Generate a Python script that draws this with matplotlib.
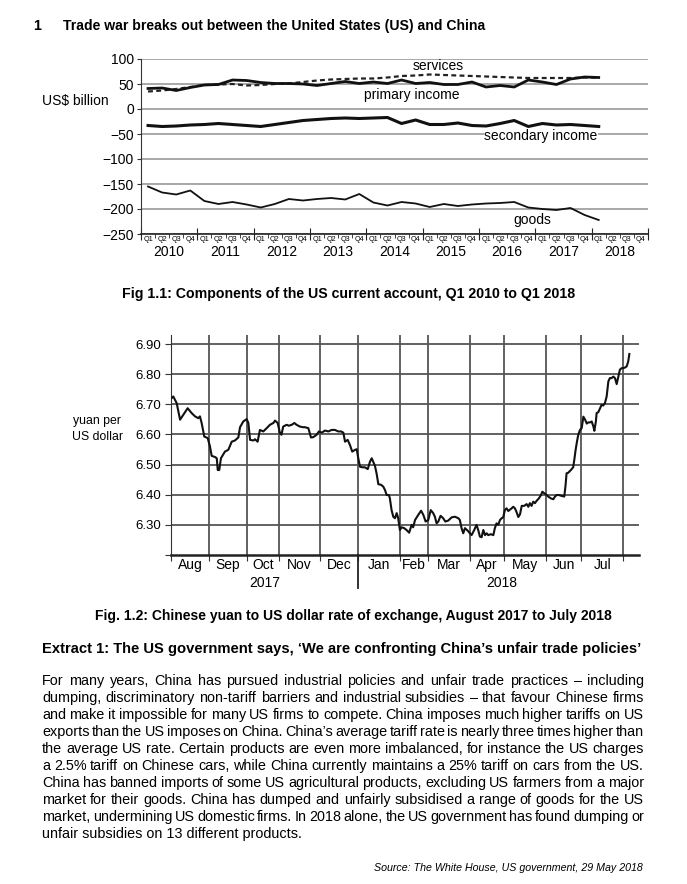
import numpy as np
import matplotlib
matplotlib.use('Agg')
import matplotlib.pyplot as plt
import matplotlib.transforms as mtrans

plt.rcParams['font.family'] = ['Liberation Sans', 'DejaVu Sans']

# ---- Fig 1.1 data: US current account components, Q1 2010 .. Q1 2018 (US$ billion)
years = [2010, 2011, 2012, 2013, 2014, 2015, 2016, 2017, 2018]
quarter_names = ['Q1', 'Q2', 'Q3', 'Q4']
services = [35, 37, 40, 44, 48, 49, 50, 47, 48, 50, 51, 54, 57, 59, 60, 61,
            61, 63, 66, 67, 69, 68, 67, 66, 65, 64, 63, 62, 62, 62, 62, 63, 63]
primary_income = [41, 42, 37, 43, 48, 49, 58, 57, 53, 51, 51, 50, 47, 51, 55, 51,
                  54, 51, 58, 51, 53, 49, 49, 54, 44, 47, 44, 58, 54, 49, 60, 64, 63]
secondary_income = [-33, -35, -34, -32, -31, -29, -31, -33, -35, -31, -27, -23, -21, -19, -18, -19,
                    -18, -17, -29, -22, -31, -31, -28, -33, -34, -29, -23, -35, -29, -32, -31, -33, -35]
goods = [-155, -167, -171, -163, -184, -190, -186, -191, -197, -190, -180, -183, -180, -178, -181, -170,
         -187, -193, -186, -189, -196, -190, -194, -191, -189, -188, -186, -197, -200, -202, -198, -212, -222]

# ---- Fig 1.2 data: yuan per US dollar, x = trading day counted from 1 Aug 2017
months = ['Aug', 'Sep', 'Oct', 'Nov', 'Dec', 'Jan', 'Feb', 'Mar', 'Apr', 'May', 'Jun', 'Jul']
month_trading_days = [20, 20, 17, 22, 20, 22, 15, 22, 18, 22, 19, 22]
fx_day = [0.4, 1.2, 3.0, 4.8, 6.5, 8.8, 10.9, 12.7, 14.4, 15.3, 16.2, 17.6, 19.4, 20.6, 21.5, 23.3,
          24.2, 24.7, 25.5, 26.4, 28.5, 30.3, 32.1, 33.8, 35.6, 36.5, 38.2, 40.0, 40.9, 41.8, 43.6,
          44.4, 45.8, 47.0, 48.8, 50.6, 52.3, 54.1, 55.0, 56.4, 57.6, 58.4, 59.3, 61.1, 62.3, 63.8,
          65.2, 66.4, 68.2, 69.9, 70.8, 72.6, 74.0, 75.2, 77.0, 78.2, 79.7, 81.4, 83.2, 84.9, 86.7,
          88.4, 89.9, 91.1, 92.0, 93.4, 94.6, 95.8, 97.3, 98.2, 99.0, 99.9, 101.1, 102.5, 104.0,
          105.2, 106.1, 107.8, 108.7, 109.6, 111.0, 112.2, 113.1, 114.0, 115.2, 115.7, 116.6, 117.5,
          118.4, 119.3, 120.1, 121.0, 121.9, 123.3, 124.5, 125.9, 127.2, 128.0, 129.0, 130.7, 132.2,
          133.4, 134.6, 136.0, 137.3, 138.6, 139.5, 140.4, 141.3, 142.5, 143.9, 145.0, 146.5, 148.4,
          150.1, 151.9, 152.7, 153.6, 154.5, 155.4, 156.8, 158.0, 158.9, 160.3, 161.5, 162.4, 163.3,
          164.2, 165.1, 166.0, 166.9, 167.7, 169.1, 170.4, 171.2, 172.1, 173.0, 173.9, 174.8, 175.6,
          176.5, 177.4, 178.3, 180.1, 180.9, 181.8, 182.7, 183.6, 184.5, 185.4, 186.7, 188.0, 188.9,
          189.7, 190.6, 191.5, 192.4, 193.3, 194.5, 195.6, 196.3, 197.3, 198.6, 199.4, 200.8, 202.1,
          203.0, 203.9, 205.1, 206.5, 207.9, 208.6, 209.1, 210.0, 211.4, 212.6, 213.2, 213.9, 214.6,
          215.3, 216.2, 217.1, 218.0, 218.9, 219.8, 220.6, 221.5, 222.4, 223.3, 223.8, 224.6, 225.0,
          225.9, 226.7, 227.6, 228.5, 229.4, 230.3, 231.2, 232.0, 232.9, 233.8, 234.7, 235.6, 236.5,
          237.3, 238.2, 239.1, 240.0, 240.9, 241.7, 242.3]
fx_rate = [6.721, 6.726, 6.704, 6.649, 6.665, 6.687, 6.671, 6.660, 6.654, 6.660, 6.638, 6.593, 6.588,
           6.560, 6.529, 6.525, 6.521, 6.482, 6.482, 6.521, 6.543, 6.549, 6.576, 6.580, 6.590, 6.624,
           6.643, 6.651, 6.638, 6.582, 6.580, 6.584, 6.576, 6.615, 6.610, 6.621, 6.632, 6.638, 6.646,
           6.638, 6.604, 6.599, 6.626, 6.632, 6.629, 6.632, 6.638, 6.632, 6.626, 6.624, 6.624, 6.621,
           6.590, 6.591, 6.599, 6.610, 6.606, 6.613, 6.610, 6.615, 6.615, 6.610, 6.610, 6.606, 6.576,
           6.582, 6.565, 6.543, 6.549, 6.551, 6.521, 6.493, 6.491, 6.491, 6.485, 6.510, 6.521, 6.496,
           6.470, 6.435, 6.433, 6.427, 6.416, 6.399, 6.399, 6.388, 6.349, 6.327, 6.322, 6.339, 6.322,
           6.283, 6.292, 6.289, 6.283, 6.274, 6.300, 6.292, 6.316, 6.333, 6.347, 6.333, 6.311, 6.316,
           6.349, 6.339, 6.327, 6.305, 6.311, 6.330, 6.322, 6.311, 6.314, 6.325, 6.327, 6.322, 6.316,
           6.289, 6.272, 6.289, 6.281, 6.272, 6.266, 6.283, 6.300, 6.283, 6.261, 6.259, 6.283, 6.266,
           6.272, 6.266, 6.269, 6.266, 6.289, 6.305, 6.300, 6.316, 6.322, 6.325, 6.349, 6.355, 6.346,
           6.355, 6.360, 6.355, 6.342, 6.326, 6.335, 6.363, 6.363, 6.369, 6.360, 6.372, 6.363, 6.377,
           6.372, 6.380, 6.388, 6.399, 6.410, 6.405, 6.399, 6.394, 6.388, 6.385, 6.394, 6.399, 6.399,
           6.396, 6.394, 6.433, 6.471, 6.473, 6.482, 6.491, 6.516, 6.549, 6.576, 6.599, 6.615, 6.621,
           6.659, 6.649, 6.636, 6.640, 6.640, 6.643, 6.626, 6.612, 6.643, 6.671, 6.674, 6.685, 6.698,
           6.696, 6.704, 6.726, 6.776, 6.787, 6.787, 6.792, 6.787, 6.767, 6.792, 6.815, 6.820, 6.820,
           6.822, 6.826, 6.842, 6.867]

paragraph = [
    "For many years, China has pursued industrial policies and unfair trade practices \u2013 including",
    "dumping, discriminatory non-tariff barriers and industrial subsidies \u2013 that favour Chinese firms",
    "and make it impossible for many US firms to compete. China imposes much higher tariffs on US",
    "exports than the US imposes on China. China\u2019s average tariff rate is nearly three times higher than",
    "the average US rate. Certain products are even more imbalanced, for instance the US charges",
    "a 2.5% tariff on Chinese cars, while China currently maintains a 25% tariff on cars from the US.",
    "China has banned imports of some US agricultural products, excluding US farmers from a major",
    "market for their goods. China has dumped and unfairly subsidised a range of goods for the US",
    "market, undermining US domestic firms. In 2018 alone, the US government has found dumping or",
    "unfair subsidies on 13 different products.",
]

W, H = 687, 884
fig = plt.figure(figsize=(W / 100, H / 100), dpi=100)
fig.patch.set_facecolor('white')


def box(l, t, r, b):
    return [l / W, 1 - b / H, (r - l) / W, (b - t) / H]


def ftext(x, y, s, **kw):
    return fig.text(x / W, 1 - y / H, s, **kw)


FS = 10
ink = '#111111'

# ---------------- Fig 1.1 ----------------
ax1 = fig.add_axes(box(141, 59, 648, 234))
xq = np.arange(len(goods)) + 0.5
ax1.plot(xq, services, color='#222222', lw=1.6, ls=(0, (2.2, 1.5)))
ax1.plot(xq, primary_income, color=ink, lw=2.0)
ax1.plot(xq, secondary_income, color=ink, lw=2.2)
ax1.plot(xq, goods, color=ink, lw=1.3)
ax1.set_xlim(0, 4 * len(years))
ax1.set_ylim(-250, 100)
ax1.set_yticks(range(-250, 101, 50))
ax1.yaxis.grid(True, color='#9a9a9a', lw=1.2)
ax1.set_axisbelow(True)
for s in ['top', 'right']:
    ax1.spines[s].set_visible(False)
ax1.spines['left'].set_color('#333333')
ax1.spines['bottom'].set_color('#222222')
ax1.spines['bottom'].set_linewidth(1.2)
ax1.tick_params(axis='y', labelsize=FS, length=3, pad=2, color='#333333')
ax1.set_xticks(range(0, 4 * len(years) + 1, 4))
ax1.set_xticks(range(0, 4 * len(years) + 1), minor=True)
ax1.tick_params(axis='x', which='major', direction='inout', length=9, labelbottom=False, color='#222222')
ax1.tick_params(axis='x', which='minor', direction='out', length=3, color='#222222')
tr1 = mtrans.blended_transform_factory(ax1.transData, ax1.transAxes)
for k, yr in enumerate(years):
    for j, q in enumerate(quarter_names):
        ax1.text(4 * k + j + 0.5, -0.012, q, transform=tr1, ha='center', va='top', fontsize=5.2)
    ax1.text(4 * k + 2, -0.105, str(yr), transform=tr1, ha='center', va='center', fontsize=FS)
ax1.text(21.1, 86, 'services', ha='center', va='center', fontsize=FS)
ax1.text(19.2, 28, 'primary income', ha='center', va='center', fontsize=FS)
ax1.text(28.4, -54, 'secondary income', ha='center', va='center', fontsize=FS,
         bbox=dict(facecolor='white', edgecolor='none', pad=0.6))
ax1.text(27.8, -222, 'goods', ha='center', va='center', fontsize=FS)
ftext(42, 101, 'US$ billion', ha='left', va='center', fontsize=FS)

# ---------------- Fig 1.2 ----------------
ax2 = fig.add_axes(box(171, 335, 639, 555))
bounds = np.concatenate([[0], np.cumsum(month_trading_days)])
grid_c = '#555555'
for b in bounds[1:]:
    ax2.axvline(b, color=grid_c, lw=1.3, zorder=1)
for v in np.arange(6.3, 6.91, 0.1):
    ax2.axhline(v, color=grid_c, lw=1.3, zorder=1)
ax2.plot(fx_day, fx_rate, color=ink, lw=1.5, zorder=3)
ax2.set_xlim(0, 247.4)
ax2.set_ylim(6.20, 6.93)
yt = np.arange(6.2, 6.91, 0.1)
ax2.set_yticks(yt)
ax2.set_yticklabels([''] + ['%.2f' % v for v in yt[1:]])
ax2.set_xticks(bounds)
ax2.set_xticklabels([])
for s in ['top', 'right']:
    ax2.spines[s].set_visible(False)
ax2.spines['bottom'].set_linewidth(1.8)
ax2.spines['bottom'].set_color('#222222')
ax2.spines['left'].set_color('#333333')
ax2.tick_params(axis='y', labelsize=9.5, length=4, pad=3, color='#333333')
ax2.tick_params(axis='x', length=4, color='#333333')
tr2 = mtrans.blended_transform_factory(ax2.transData, ax2.transAxes)
for m, lo, hi in zip(months, bounds[:-1], bounds[1:]):
    ax2.text((lo + hi) / 2, -0.047, m, transform=tr2, ha='center', va='center', fontsize=FS)
ax2.plot([bounds[5], bounds[5]], [0, -0.148], transform=tr2, color='#222222', lw=1.3, clip_on=False)
ax2.text(bounds[5] / 2, -0.128, '2017', transform=tr2, ha='center', va='center', fontsize=FS)
ax2.text(175, -0.128, '2018', transform=tr2, ha='center', va='center', fontsize=FS)
ftext(97, 421, 'yuan per', ha='center', va='center', fontsize=8.8)
ftext(97, 437, 'US dollar', ha='center', va='center', fontsize=8.8)

# ---------------- headings and text ----------------
BF = 10.2
ftext(33, 30, '1', fontsize=BF, fontweight='bold', va='baseline')
ftext(63, 30, 'Trade war breaks out between the United States (US) and China',
      fontsize=10.1, fontweight='bold', va='baseline')
ftext(349, 298, 'Fig 1.1: Components of the US current account, Q1 2010 to Q1 2018',
      fontsize=BF, fontweight='bold', ha='center', va='baseline')
ftext(353, 620, 'Fig. 1.2: Chinese yuan to US dollar rate of exchange, August 2017 to July 2018',
      fontsize=10.0, fontweight='bold', ha='center', va='baseline')
ftext(42, 653, 'Extract 1: The US government says, \u2018We are confronting China\u2019s unfair trade policies\u2019',
      fontsize=10.6, fontweight='bold', va='baseline')

renderer = fig.canvas.get_renderer()
PS = 10.4
x0, x1 = 42, 644
for i, line in enumerate(paragraph):
    yb = 685 + 17 * i
    if i == len(paragraph) - 1:
        ftext(x0, yb, line, fontsize=PS, va='baseline')
        continue
    words = line.split(' ')
    widths = []
    for w in words:
        t = fig.text(0, 0, w, fontsize=PS)
        widths.append(t.get_window_extent(renderer).width)
        t.remove()
    gap = (x1 - x0 - sum(widths)) / (len(words) - 1)
    x = x0
    for w, wd in zip(words, widths):
        ftext(x, yb, w, fontsize=PS, va='baseline')
        x += wd + gap

ftext(643, 871, 'Source: The White House, US government, 29 May 2018',
      fontsize=7.7, style='italic', ha='right', va='baseline')

fig.savefig('out.png', dpi=100)
